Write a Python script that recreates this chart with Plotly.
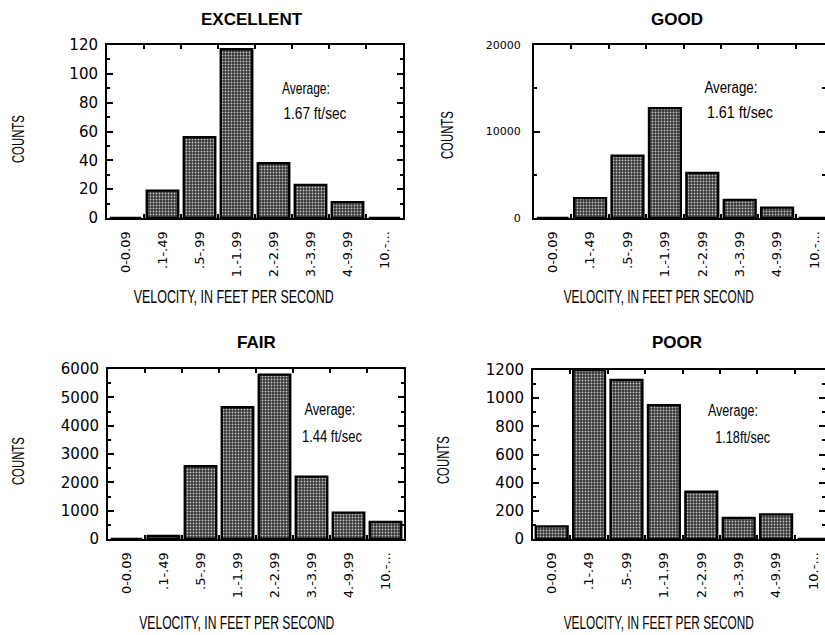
import json
import plotly.graph_objects as go

W, H = 825, 635

categories = ["0-0.09", ".1-.49", ".5-.99", "1.-1.99", "2.-2.99", "3.-3.99", "4.-9.99", "10.-..."]
excellent = [0, 19, 56, 117, 38, 23, 11, 0]
good = [0, 2300, 7200, 12700, 5200, 2100, 1200, 0]
fair = [0, 110, 2570, 4650, 5800, 2200, 930, 600]
poor = [90, 1200, 1130, 950, 335, 150, 175, 0]

panel_titles = ["EXCELLENT", "GOOD", "FAIR", "POOR"]
averages = ["1.67 ft/sec", "1.61 ft/sec", "1.44 ft/sec", "1.18ft/sec"]
x_title = "VELOCITY, IN FEET PER SECOND"
y_title = "COUNTS"

NARROW = "Liberation Sans, Arial, sans-serif"
TICKF = "DejaVu Sans, Arial, sans-serif"
BOLD = "Liberation Sans, Arial, sans-serif"


def px(x):
    return x / W


def py(y):
    return 1 - y / H


# panel frames in pixels: (left, right, top, bottom)
frames = [
    (107, 403, 45, 218),
    (534, 834, 45, 218),
    (108, 404, 369, 539),
    (533, 834, 370, 539),
]
# (min, max, major dtick, minor dtick, label font size, label standoff)
yranges = [(0, 120, 20, 10, 15, 4), (0, 20000, 10000, 5000, 11, 9),
           (0, 6000, 1000, 500, 15, 4), (0, 1200, 200, 100, 15, 4)]
series = [excellent, good, fair, poor]

fig = go.Figure()
layout = dict(
    template="none",
    width=W, height=H,
    margin=dict(l=0, r=0, t=0, b=0, pad=0),
    paper_bgcolor="white", plot_bgcolor="white",
    showlegend=False, bargap=0.15,
    annotations=[],
)

for i, (vals, fr, yr) in enumerate(zip(series, frames, yranges)):
    l, r, t, b = fr
    sp = 37.0 if i in (0, 2) else 37.4
    xr_max = (min(r, W) - l) / sp - 0.5
    sfx = "" if i == 0 else str(i + 1)
    fig.add_trace(go.Bar(
        x=categories, y=vals, xaxis="x" + sfx, yaxis="y" + sfx,
        marker=dict(
            color="#363636",
            line=dict(color="black", width=2.4),
            pattern=dict(shape=".", fgcolor="#c4c4c4", bgcolor="#363636", size=3, solidity=0.3),
        ),
        hoverinfo="x+y",
    ))
    layout["xaxis" + sfx] = dict(
        domain=[px(l), min(px(r), 1.0)], anchor="y" + sfx, automargin=False,
        type="category", range=[-0.5, xr_max],
        showline=True, linecolor="black", linewidth=2, mirror="ticks",
        ticks="inside", ticklen=4, tickwidth=2, tickcolor="black", tickson="boundaries",
        tickangle=-90, tickfont=dict(family=TICKF, size=13, color="black"),
        ticklabelstandoff=6, showgrid=False, zeroline=False, fixedrange=True,
    )
    y0, y1, dt, mdt, fs, so = yr
    layout["yaxis" + sfx] = dict(
        domain=[py(b), py(t)], anchor="x" + sfx, automargin=False,
        range=[y0, y1], dtick=dt, tick0=0, tickformat="d",
        showline=True, linecolor="black", linewidth=2, mirror="allticks",
        ticks="inside", ticklen=6, tickwidth=2, tickcolor="black",
        minor=dict(ticks="inside", ticklen=3, tickwidth=2, tickcolor="black", dtick=mdt, showgrid=False),
        tickfont=dict(family=TICKF, size=fs, color="black"),
        ticklabelstandoff=so, showgrid=False, zeroline=False, fixedrange=True,
    )

ann = layout["annotations"]
squeeze = []  # target text lengths (px) for condensed lettering, per annotation
title_pos = [(252, 20), (677, 20), (256, 343), (677, 342)]
xt_pos = [(233, 297), (658, 297), (236, 623), (658, 623)]
xt_len = [200, 190, 195, 190]
yt_pos = [(18, 139), (447, 135), (18, 461), (443, 460)]
avg_pos = [((306, 88), (315, 114)), ((731, 87), (740, 112)), ((330, 409), (332, 436)), ((733, 410), (742, 437))]
avg_len = [(48, 63), (53, 66), (51, 60), (50, 55)]

for i in range(4):
    ann.append(dict(text=panel_titles[i], x=px(title_pos[i][0]), y=py(title_pos[i][1]), xref="paper", yref="paper",
                    showarrow=False, xanchor="center", yanchor="middle",
                    font=dict(family=BOLD, size=17, color="black", weight="bold")))
    squeeze.append(None)
    ann.append(dict(text=x_title, x=px(xt_pos[i][0]), y=py(xt_pos[i][1]), xref="paper", yref="paper",
                    showarrow=False, xanchor="center", yanchor="middle",
                    font=dict(family=NARROW, size=18, color="black")))
    squeeze.append(xt_len[i])
    ann.append(dict(text=y_title, x=px(yt_pos[i][0]), y=py(yt_pos[i][1]), xref="paper", yref="paper",
                    showarrow=False, xanchor="center", yanchor="middle", textangle=-90,
                    font=dict(family=NARROW, size=17, color="black")))
    squeeze.append(48)
    (ax1, ay1), (ax2, ay2) = avg_pos[i]
    ann.append(dict(text="Average:", x=px(ax1), y=py(ay1), xref="paper", yref="paper",
                    showarrow=False, xanchor="center", yanchor="middle",
                    font=dict(family=NARROW, size=16, color="black")))
    squeeze.append(avg_len[i][0])
    ann.append(dict(text=averages[i], x=px(ax2), y=py(ay2), xref="paper", yref="paper",
                    showarrow=False, xanchor="center", yanchor="middle",
                    font=dict(family=NARROW, size=16, color="black")))
    squeeze.append(avg_len[i][1])

fig.update_layout(**layout)

post = """
document.body.style.margin = '0';
document.body.style.overflow = 'hidden';
var LENS = %s;
document.querySelectorAll('g.annotation').forEach(function (g) {
  var i = +g.getAttribute('data-index');
  var t = g.querySelector('text.annotation-text');
  if (t && LENS[i]) {
    t.setAttribute('textLength', LENS[i]);
    t.setAttribute('lengthAdjust', 'spacingAndGlyphs');
  }
});
""" % json.dumps(squeeze)

fig.write_html("out.html", config={"displayModeBar": False}, post_script=post)
